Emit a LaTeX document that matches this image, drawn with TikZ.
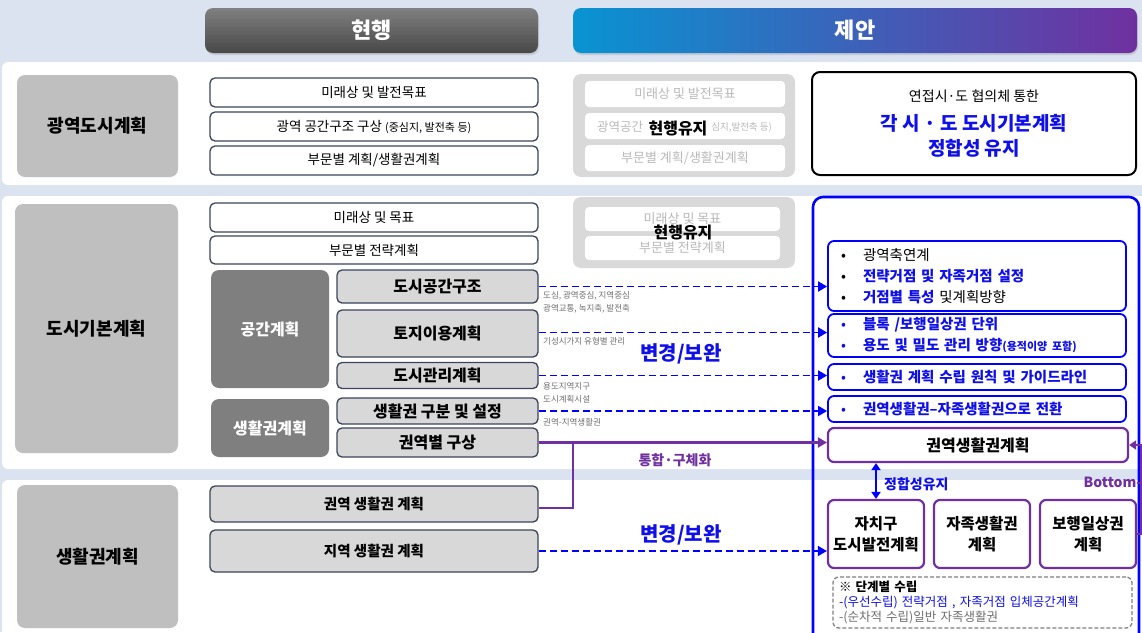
\documentclass[tikz,border=0pt]{standalone}
\usepackage{fontspec}
\setmainfont{Noto Sans CJK KR}
\usetikzlibrary{arrows.meta,shadows}
\definecolor{bgc}{RGB}{219,227,240}
\definecolor{gA}{RGB}{191,191,191}
\definecolor{gB}{RGB}{127,127,127}
\definecolor{gC}{RGB}{217,217,217}
\definecolor{gD}{RGB}{216,216,216}
\definecolor{edge}{RGB}{58,68,92}
\definecolor{bl}{RGB}{0,0,255}
\definecolor{blt}{RGB}{15,15,235}
\definecolor{pu}{RGB}{112,48,160}
\definecolor{fade}{RGB}{185,185,185}
\definecolor{smallg}{RGB}{110,110,110}
\definecolor{jl}{RGB}{8,148,210}
\definecolor{jm}{RGB}{72,80,178}
\definecolor{hT}{RGB}{128,128,128}
\definecolor{hB}{RGB}{72,72,72}
\begin{document}
\begin{tikzpicture}[x=1pt,y=-1pt,
  hdr/.style={rounded corners=8, text=white, font=\bfseries\fontsize{22}{26}\selectfont, inner sep=0, drop shadow={opacity=0.25,shadow xshift=1pt,shadow yshift=-2pt}},
  lab/.style={fill=gA, rounded corners=8, font=\bfseries\fontsize{18}{22}\selectfont, inner sep=0},
  wbox/.style={fill=white, draw=edge, line width=1.3pt, rounded corners=5, inner sep=0, font=\fontsize{13.5}{16}\selectfont},
  gbox/.style={fill=gB, rounded corners=8, text=white, inner sep=0, font=\bfseries\fontsize{16}{19}\selectfont},
  cbox/.style={fill=gD, draw=edge, line width=1.3pt, rounded corners=5, inner sep=0, font=\bfseries\fontsize{16}{19}\selectfont},
  dbox/.style={fill=gD, draw=edge, line width=1.3pt, rounded corners=5, inner sep=0, font=\bfseries\fontsize{14.5}{17}\selectfont},
  fgrp/.style={fill=gC, rounded corners=8, inner sep=0},
  fbox/.style={fill=white, rounded corners=4, inner sep=0, text=fade, font=\fontsize{13}{16}\selectfont},
  ftxt/.style={text=fade, inner sep=0},
  keep/.style={font=\bfseries\fontsize{16}{19}\selectfont, inner sep=1pt},
  bbox/.style={draw=bl, line width=1.8pt, fill=white, rounded corners=6, inner sep=0, align=left, text width=272pt, font=\fontsize{14.5}{21}\selectfont},
  pbox/.style={draw=pu, line width=2.2pt, fill=white, rounded corners=6, inner sep=0, align=center, font=\bfseries\fontsize{15.5}{21}\selectfont},
  note/.style={font=\fontsize{8.5}{10}\selectfont, text=smallg, inner sep=0, anchor=west},
  dsh/.style={draw=bl, line width=1.8pt, dash pattern=on 7pt off 4pt, -{Triangle[length=9pt,width=10pt]}},
  pln/.style={draw=pu, line width=2.2pt}
]
\clip (0,0) rectangle (1142,632);
\fill[bgc] (0,0) rectangle (1142,632);
% bands
\fill[white, rounded corners=6] (2,62) rectangle (1160,185);
\fill[white, rounded corners=6] (2,196) rectangle (1160,469);
\fill[white, rounded corners=6] (2,480) rectangle (1160,660);

% headers
\node[hdr, top color=hT, bottom color=hB, minimum width=333pt, minimum height=45pt] (h1) at (371.5,30.5) {현행};
\node[hdr, left color=jl, middle color=jm, right color=pu, minimum width=564pt, minimum height=45pt] (h2) at (855,30.5) {제안};

% row 1
\node[lab, minimum width=161pt, minimum height=102pt] (L1) at (97.5,126) {광역도시계획};
\node[wbox, minimum width=328pt, minimum height=29pt] (a1) at (374,92.5) {미래상 및 발전목표};
\node[wbox, minimum width=328pt, minimum height=29pt] (a2) at (374,126.5) {광역 공간구조 구상 {\fontsize{11}{13}\selectfont (중심지, 발전축 등)}};
\node[wbox, minimum width=328pt, minimum height=29pt] (a3) at (374,160.5) {부문별 계획/생활권계획};

\node[fgrp, minimum width=222pt, minimum height=103pt] (F1) at (684,125.5) {};
\node[fbox, minimum width=200pt, minimum height=26pt] (f1) at (685,94) {미래상 및 발전목표};
\node[fbox, minimum width=200pt, minimum height=26pt] (f2) at (685,126) {};
\node[ftxt, anchor=west, font=\fontsize{12.5}{15}\selectfont] (f2a) at (597,126.5) {광역공간};
\node[ftxt, anchor=east, font=\fontsize{9.5}{11}\selectfont] (f2b) at (772,127) {심지,발전축 등)};
\node[fbox, minimum width=200pt, minimum height=26pt] (f3) at (685,158) {부문별 계획/생활권계획};
\node[keep] (k1) at (678,128) {현행유지};

\node[draw=black, line width=2pt, fill=white, rounded corners=8, minimum width=324pt, minimum height=103pt, inner sep=0] (r1) at (974,123.5) {};
\node[font=\fontsize{14}{17}\selectfont, inner sep=0] (r1a) at (974,96) {연접시·도 협의체 통한};
\node[font=\bfseries\fontsize{19}{23}\selectfont, text=blt, inner sep=0, align=center] (r1b) at (974,136) {각 시 · 도 도시기본계획\\[2pt]정합성 유지};

% row 2
\node[lab, minimum width=163pt, minimum height=249pt] (L2) at (96.5,328.5) {도시기본계획};
\node[wbox, minimum width=328pt, minimum height=29pt] (b1) at (374,217.5) {미래상 및 목표};
\node[wbox, minimum width=328pt, minimum height=28pt] (b2) at (374,250) {부문별 전략계획};
\node[gbox, minimum width=118pt, minimum height=118pt] (G1) at (270,329) {공간계획};
\node[gbox, minimum width=118pt, minimum height=58pt] (G2) at (270,428) {생활권계획};
\node[cbox, minimum width=201pt, minimum height=33pt] (c1) at (437.5,286.5) {도시공간구조};
\node[cbox, minimum width=201pt, minimum height=47pt] (c2) at (437.5,333.5) {토지이용계획};
\node[cbox, minimum width=201pt, minimum height=26pt] (c3) at (437.5,375.5) {도시관리계획};
\node[cbox, minimum width=201pt, minimum height=26pt] (c4) at (437.5,411) {생활권 구분 및 설정};
\node[cbox, minimum width=201pt, minimum height=29pt] (c5) at (437.5,442.5) {권역별 구상};

\node[fgrp, minimum width=222pt, minimum height=71pt] (F2) at (684,232.5) {};
\node[fbox, minimum width=195pt, minimum height=24pt] (f4) at (682.5,219) {미래상 및 목표};
\node[fbox, minimum width=195pt, minimum height=24pt] (f5) at (682.5,248) {부문별 전략계획};
\node[keep] (k2) at (683,232) {현행유지};

% big blue frame
\draw[bl, line width=2.6pt, rounded corners=10] (813,650) -- (813,197) -- (1139,197) -- (1139,650);

\node[bbox, minimum width=298pt, minimum height=70pt] (p1) at (977,276) {\makebox[22pt][l]{•}광역축연계\\
\makebox[22pt][l]{•}{\color{blt}\bfseries 전략거점 및 자족거점 설정}\\
\makebox[22pt][l]{•}{\color{blt}\bfseries 거점별 특성} 및계획방향};
\node[bbox, minimum width=298pt, minimum height=43pt, text=blt] (p2) at (977,335.5) {\makebox[22pt][l]{•}\textbf{블록 /보행일상권 단위}\\
\makebox[22pt][l]{•}\textbf{용도 및 밀도 관리 방향{\fontsize{11}{13}\selectfont (용적이양 포함)}}};
\node[bbox, minimum width=298pt, minimum height=26pt, text=blt] (p3) at (977,377) {\makebox[22pt][l]{•}\textbf{생활권 계획 수립 원칙 및 가이드라인}};
\node[bbox, minimum width=298pt, minimum height=26pt, text=blt] (p4) at (977,409) {\makebox[22pt][l]{•}\textbf{권역생활권–자족생활권으로 전환}};
\node[pbox, minimum width=300pt, minimum height=34pt, font=\bfseries\fontsize{16}{19}\selectfont] (p5) at (978,445) {권역생활권계획};

% small notes
\node[note] (t1) at (543,296) {도심, 광역중심, 지역중심};
\node[note] (t2) at (543,309) {광역교통, 녹지축, 발전축};
\node[note] (t3) at (543,341) {기성시가지 유형별 관리};
\node[note] (t4) at (543,386) {용도지역지구};
\node[note] (t5) at (543,399) {도시계획시설};
\node[note] (t6) at (543,422) {권역-지역생활권};
\node[font=\bfseries\fontsize{20}{24}\selectfont, text=blt, inner sep=0] (m1) at (681,354) {변경/보완};
\node[font=\bfseries\fontsize{14}{17}\selectfont, text=pu, inner sep=0] (m2) at (675,460) {통합·구체화};

% dashed connectors row 2
\draw[dsh] (c1.east) -- (c1.east -| p1.west);
\draw[dsh] (c2.east) ++(0,-1) coordinate (c2e) -- (c2e -| p2.west);
\draw[dsh] (c3.east) -- (c3.east -| p3.west);
\draw[dsh] (c4.east) -- (c4.east -| p4.west);
\draw[pln, -{Triangle[length=9pt,width=10pt]}] (c5.east) -- (c5.east -| p5.west);

% row 3
\node[lab, minimum width=161pt, minimum height=143pt] (L3) at (97.5,556.5) {생활권계획};
\node[dbox, minimum width=328pt, minimum height=36pt] (d1) at (374,504) {권역 생활권 계획};
\node[dbox, minimum width=328pt, minimum height=42pt] (d2) at (374,551) {지역 생활권 계획};
\coordinate (j) at (573,443);
\draw[pln] (d1.east) ++(0,4) coordinate (d1e) -| (j);

\node[pbox, minimum width=96pt, minimum height=68pt] (q1) at (876,534) {자치구\\도시발전계획};
\node[pbox, minimum width=96pt, minimum height=68pt] (q2) at (982,534) {자족생활권\\계획};
\node[pbox, minimum width=96pt, minimum height=68pt] (q3) at (1088,534) {보행일상권\\계획};
\node[font=\bfseries\fontsize{20}{24}\selectfont, text=blt, inner sep=0] (m3) at (681,535) {변경/보완};
\draw[dsh] (d2.east) -- (d2.east -| q1.west);

\draw[bl, line width=2.2pt, {Triangle[length=7pt,width=9pt]}-{Triangle[length=7pt,width=9pt]}] (q1.north |- p5.south) -- (q1.north);
\node[font=\bfseries\fontsize{14}{17}\selectfont, text=blt, inner sep=0, anchor=west] (m4) at (884,484) {정합성유지};
\draw[pln, -{Triangle[length=7pt,width=9pt]}] (q3.east) -- ++(4,0) coordinate (bu) |- (p5.east);
\node[font=\bfseries\fontsize{14}{17}\selectfont, text=pu, inner sep=0, anchor=east] (m5) at (1142,482) {Bottom-};

\node[draw=gray, line width=1.3pt, dash pattern=on 4pt off 2pt, rounded corners=6, minimum width=299pt, minimum height=51pt, inner sep=0, text width=287pt, align=left, font=\fontsize{12.5}{15}\selectfont] (n1) at (982.5,602.5) {\textbf{※ 단계별 수립}\\
{\color{blt}-(우선수립) 전략거점 , 자족거점 입체공간계획}\\
{\color{smallg}-(순차적 수립)일반 자족생활권}};
\end{tikzpicture}
\end{document}
